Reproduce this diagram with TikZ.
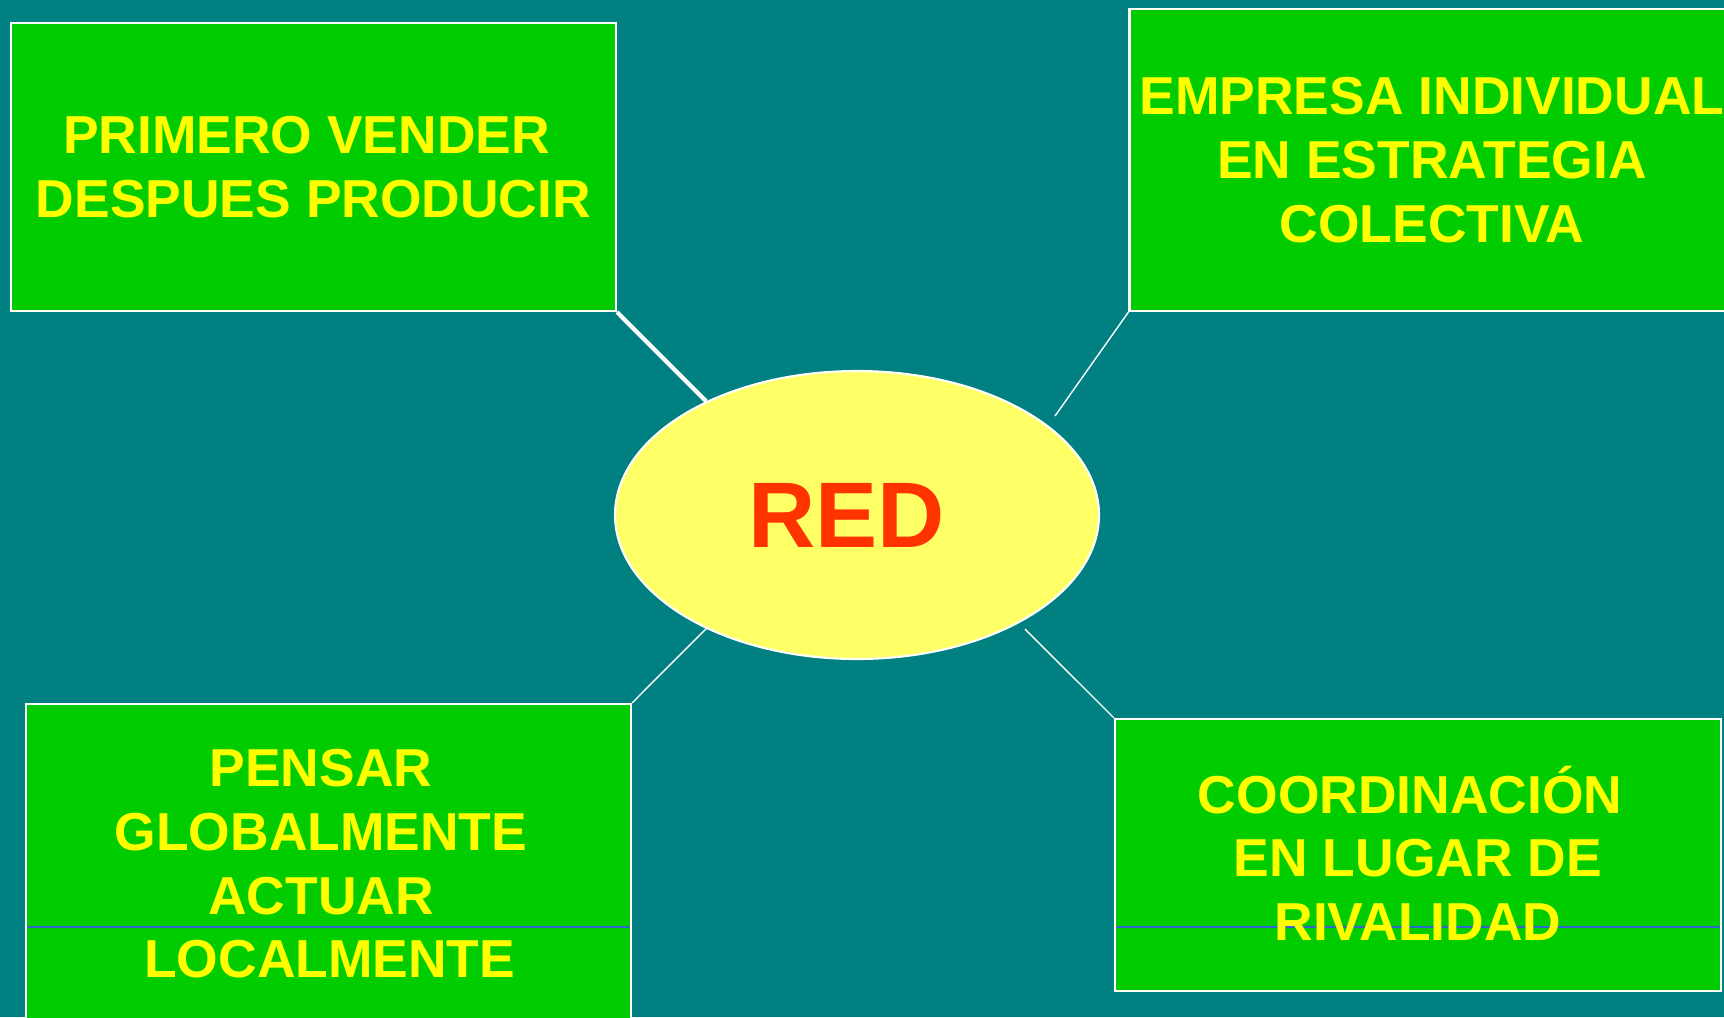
\documentclass[tikz,border=0pt]{standalone}
\usepackage{fontspec}
\setmainfont{Liberation Sans}
\usetikzlibrary{shapes.geometric}

\definecolor{slidebg}{RGB}{0,128,128}
\definecolor{boxgreen}{RGB}{0,204,0}
\definecolor{boxyellow}{RGB}{255,255,0}
\definecolor{hubyellow}{RGB}{255,255,102}
\definecolor{hubred}{RGB}{255,51,0}
\definecolor{bandblue}{RGB}{51,102,204}

\begin{document}
\begin{tikzpicture}[
    x=0.1mm, y=-0.1mm,
    % Styles
    greenbox/.style={draw=white, line width=0.6pt, fill=boxgreen, minimum width=60.5mm, inner sep=0pt},
    boxtext/.style={text=boxyellow, font=\fontsize{15.2}{18.1}\selectfont\bfseries, align=center},
    hub/.style={ellipse, draw=white, line width=0.6pt, fill=hubyellow, minimum width=48.4mm, minimum height=28.8mm,
                inner sep=0pt, text=hubred, font=\fontsize{26.5}{30}\selectfont\bfseries},
    spoke/.style={draw=white, line width=0.4pt},
    bandline/.style={draw=bandblue, line width=0.3pt, shorten <=0.6pt, shorten >=0.6pt}
]
    % Slide background
    \fill[slidebg] (0,0) rectangle (1724,1017);
    \useasboundingbox (0,0) rectangle (1724,1017);

    % Centre ellipse
    \node[hub] (red) at (857,515) {RED\kern6pt};

    % Top boxes
    \node[greenbox, boxtext, minimum height=28.8mm] (vender) at (313.5,167) {PRIMERO VENDER\hspace*{4pt}\\DESPUES PRODUCIR};
    \node[greenbox, boxtext, minimum height=30.2mm] (empresa) at (1432,160) {EMPRESA INDIVIDUAL\\EN ESTRATEGIA\\COLECTIVA};

    % Bottom boxes (text set afterwards, over the thin band line)
    \node[greenbox, minimum height=32mm] (pensarbox) at (328.5,864) {};
    \node[greenbox, minimum width=60.6mm, minimum height=27.2mm] (coordinacionbox) at (1418,855) {};

    \coordinate (band) at (0,927);
    \draw[bandline] (pensarbox.west |- band) -- (pensarbox.east |- band);
    \draw[bandline] (coordinacionbox.west |- band) -- (coordinacionbox.east |- band);

    \node[boxtext] (pensar) at (321,864) {PENSAR\\GLOBALMENTE\\ACTUAR\\\hspace*{5pt}LOCALMENTE};
    \node[boxtext] (coordinacion) at (1418,853) {COORDINACIÓN\hspace*{4.5pt}\\EN LUGAR DE\\RIVALIDAD};

    % Spokes from the boxes to the ellipse
    \coordinate (empresa end) at (1055,416);
    \coordinate (coordinacion end) at (1025,629);
    \draw[spoke, line width=1.2pt] (vender.south east) -- (red.143);
    \draw[spoke] (empresa.south west) -- (empresa end);
    \draw[spoke] (pensarbox.north east) -- (red.217);
    \draw[spoke] (coordinacionbox.north west) -- (coordinacion end);
\end{tikzpicture}
\end{document}
